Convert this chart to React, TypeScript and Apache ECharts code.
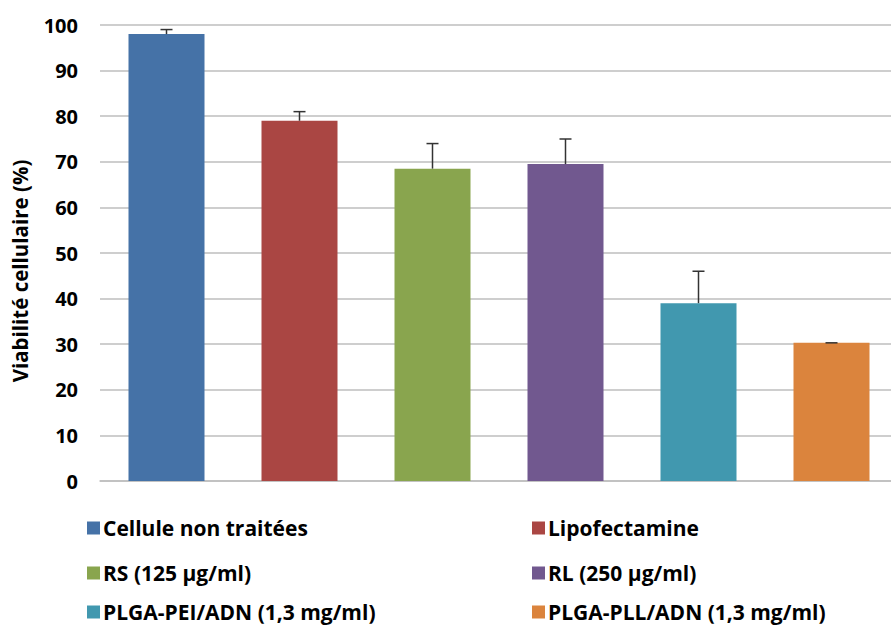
import React, { useEffect, useRef } from "react";
import * as echarts from "echarts";

const categories = [
  "Cellule non traitées",
  "Lipofectamine",
  "RS (125 µg/ml)",
  "RL (250 µg/ml)",
  "PLGA-PEI/ADN (1,3 mg/ml)",
  "PLGA-PLL/ADN (1,3 mg/ml)",
];
const viability = [98, 79, 68.5, 69.5, 39, 30.3];
const errorTop = [99, 81, 74, 75, 46, 30.3];
const colors = ["#4572A7", "#AA4643", "#89A54E", "#71588F", "#4198AF", "#DB843D"];
const yTicks = { min: 0, max: 100, interval: 10 };

const FONT = "'Open Sans', Lato, sans-serif";

export default function App() {
  const ref = useRef<HTMLDivElement>(null);
  useEffect(() => {
    if (!ref.current) return;
    const chart = echarts.init(ref.current, null, { renderer: "svg" });

    const barSeries = categories.map((name, i) => ({
      name,
      type: "bar",
      stack: "all",
      barWidth: 76,
      itemStyle: { color: colors[i] },
      data: viability.map((v, j) => (j === i ? v : "-")),
      z: 2,
    }));

    const errSeries = {
      name: "err",
      type: "custom",
      z: 5,
      data: viability.map((v, i) => [i, v, errorTop[i]]),
      renderItem: (params: any, api: any) => {
        const idx = api.value(0);
        const base = api.coord([idx, api.value(1)]);
        const top = api.coord([idx, api.value(2)]);
        const half = 6;
        return {
          type: "group",
          children: [
            {
              type: "line",
              shape: { x1: base[0], y1: base[1], x2: top[0], y2: top[1] },
              style: { stroke: "#333333", lineWidth: 1.5 },
            },
            {
              type: "line",
              shape: { x1: top[0] - half, y1: top[1], x2: top[0] + half, y2: top[1] },
              style: { stroke: "#333333", lineWidth: 1.5 },
            },
          ],
        };
      },
    };

    const legendPos = [
      { left: 87, top: 517 },
      { left: 532, top: 517 },
      { left: 87, top: 562 },
      { left: 532, top: 562 },
      { left: 87, top: 601 },
      { left: 532, top: 601 },
    ];

    const legends = categories.map((name, i) => ({
      data: [name],
      left: legendPos[i].left,
      top: legendPos[i].top,
      padding: 0,
      icon: "rect",
      itemWidth: 13,
      itemHeight: 13,
      itemGap: 0,
      selectedMode: false,
      textStyle: {
        fontFamily: FONT,
        fontWeight: "bold",
        fontSize: 21,
        lineHeight: 22,
        color: "#000",
        padding: [0, 0, 0, -2],
      },
    }));

    chart.setOption({
      animation: false,
      backgroundColor: "#fff",
      grid: {
        left: 100,
        top: 25,
        width: 798,
        height: 456,
        outerBoundsMode: "none",
        containLabel: false,
      },
      legend: legends,
      xAxis: {
        type: "category",
        data: categories,
        axisLabel: { show: false },
        axisTick: { show: false },
        axisLine: { lineStyle: { color: "#BEBEBE", width: 1.5 } },
      },
      yAxis: {
        type: "value",
        min: yTicks.min,
        max: yTicks.max,
        interval: yTicks.interval,
        name: "Viabilité cellulaire (%)",
        nameLocation: "middle",
        nameGap: 70,
        nameTextStyle: {
          fontFamily: FONT,
          fontWeight: "bold",
          fontSize: 20.5,
          color: "#000",
          padding: [0, 36, 0, 0],
        },
        axisLabel: {
          fontFamily: FONT,
          fontWeight: "bold",
          fontSize: 20,
          color: "#000",
          margin: 22,
        },
        axisLine: { show: false },
        axisTick: { show: false },
        splitLine: { lineStyle: { color: "#BEBEBE", width: 1.5 } },
      },
      series: [...barSeries, errSeries],
    });
    return () => chart.dispose();
  }, []);
  return (
    <div
      ref={ref}
      style={{ position: "fixed", left: 0, top: 0, width: 891, height: 627 }}
    />
  );
}
